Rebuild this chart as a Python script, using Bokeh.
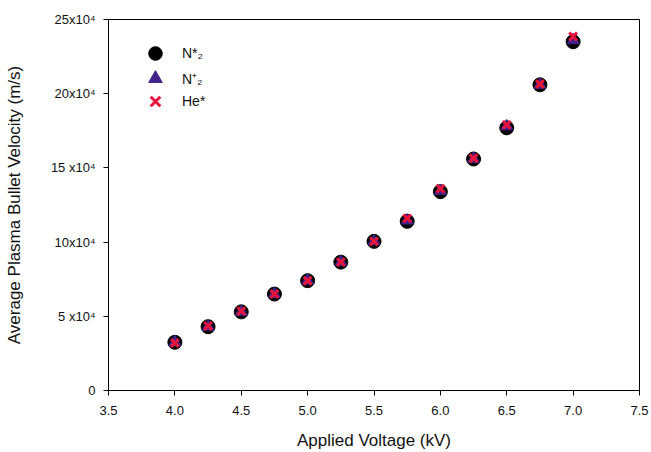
from bokeh.plotting import figure
from bokeh.models import Range1d, FixedTicker, Legend, LegendItem
from bokeh.embed import file_html
from bokeh.resources import INLINE

# Applied voltage (kV)
voltage = [4.0, 4.25, 4.5, 4.75, 5.0, 5.25, 5.5, 5.75, 6.0, 6.25, 6.5, 6.75, 7.0]
# Average bullet velocity (m/s), per emission line
v_n2_star = [3.25e4, 4.3e4, 5.3e4, 6.5e4, 7.4e4, 8.65e4, 10.05e4, 11.4e4, 13.4e4, 15.6e4, 17.7e4, 20.6e4, 23.5e4]
v_n2_plus = [3.25e4, 4.3e4, 5.3e4, 6.5e4, 7.4e4, 8.65e4, 10.05e4, 11.45e4, 13.45e4, 15.6e4, 17.8e4, 20.6e4, 23.6e4]
v_he_star = [3.2e4, 4.35e4, 5.35e4, 6.5e4, 7.4e4, 8.65e4, 10.05e4, 11.6e4, 13.6e4, 15.65e4, 17.9e4, 20.65e4, 23.85e4]

x_ticks = [3.5, 4.0, 4.5, 5.0, 5.5, 6.0, 6.5, 7.0, 7.5]
y_ticks = [0, 5e4, 10e4, 15e4, 20e4, 25e4]
y_tick_labels = ["0", "5 x10\u2074", "10x10\u2074", "15 x10\u2074", "20x10\u2074", "25x10\u2074"]
legend_labels = ["N*\u2082", "N\u207a\u2082", "He*"]

FONT = "Liberation Sans"

p = figure(width=651, height=452, output_backend="svg", toolbar_location=None,
           x_range=Range1d(3.5, 7.5), y_range=Range1d(0, 25e4),
           min_border_left=108, min_border_right=12, min_border_top=19, min_border_bottom=61)

p.xgrid.visible = False
p.ygrid.visible = False
p.outline_line_color = "black"
p.outline_line_width = 1
p.background_fill_color = "white"
p.border_fill_color = "white"

for ax in (p.xaxis[0], p.yaxis[0]):
    ax.minor_tick_line_color = None
    ax.major_tick_in = 0
    ax.major_tick_out = 5
    ax.axis_line_color = "black"
    ax.major_tick_line_color = "black"
    ax.major_label_text_font = FONT
    ax.major_label_text_font_size = "13px"
    ax.major_label_text_color = "#111111"
    ax.axis_label_text_font = FONT
    ax.axis_label_text_font_size = "17px"
    ax.axis_label_text_font_style = "normal"
    ax.axis_label_text_color = "#111111"

p.xaxis.ticker = FixedTicker(ticks=x_ticks)
p.xaxis.major_label_overrides = {t: f"{t:.1f}" for t in x_ticks}
p.xaxis.axis_label = "Applied Voltage (kV)"
p.xaxis.major_label_standoff = 10
p.xaxis.axis_label_standoff = 13

p.yaxis.ticker = FixedTicker(ticks=y_ticks)
p.yaxis.major_label_overrides = {t: lab for t, lab in zip(y_ticks, y_tick_labels)}
p.yaxis.axis_label = "Average Plasma Bullet Velocity (m/s)"
p.yaxis.major_label_standoff = 8
p.yaxis.axis_label_standoff = 24

r1 = p.scatter(voltage, v_n2_star, marker="circle", size=14, fill_color="black", line_color="black")
r2 = p.scatter(voltage, v_n2_plus, marker="triangle", size=12, fill_color="#44228C", line_color="#44228C")
r3 = p.scatter(voltage, v_he_star, marker="x", size=11, line_color="#E8143C", line_width=3)

# one single-entry legend per series so each row sits at its own offset
row_offsets = [320, 295, 272]
for label, rend, off in zip(legend_labels, [r1, r2, r3], row_offsets):
    lg = Legend(items=[LegendItem(label=label, renderers=[rend])], location=(30, off))
    lg.border_line_color = None
    lg.background_fill_alpha = 0
    lg.label_text_font = FONT
    lg.label_text_font_size = "14px"
    lg.label_text_color = "#111111"
    lg.margin = 0
    lg.padding = 8
    lg.glyph_width = 34
    lg.glyph_height = 34
    lg.label_standoff = 10
    p.add_layout(lg)

open("out.html", "w").write(file_html(p, INLINE))
